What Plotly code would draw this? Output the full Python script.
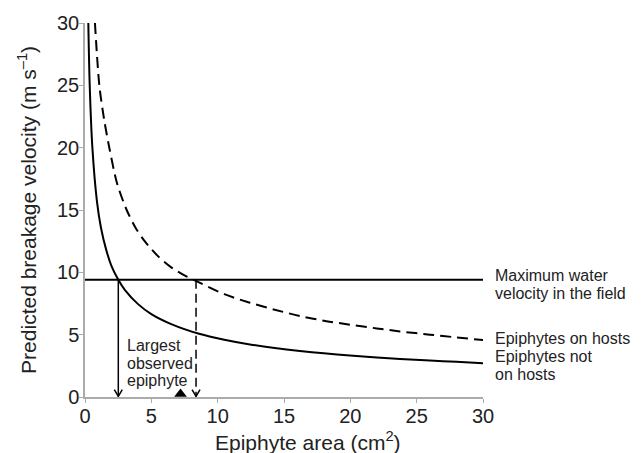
import plotly.graph_objects as go

# Predicted breakage velocity curves (epiphyte area in cm^2, velocity in m/s)
area_not_on_hosts = [0.25, 0.35, 0.55, 0.9, 1.2, 1.6, 2.0, 2.51, 3.0, 4.0, 5.0, 6.5,
                     8.67, 10.5, 12.43, 14.3, 16.2, 18.0, 19.97, 22.0, 23.74, 26.0, 28.0, 30.0]
velocity_not_on_hosts = [30.0, 25.2, 20.1, 15.7, 13.6, 11.8, 10.5, 9.4, 8.6, 7.45, 6.65, 5.85,
                         5.05, 4.6, 4.22, 3.93, 3.69, 3.5, 3.33, 3.17, 3.05, 2.92, 2.82, 2.71]

area_on_hosts = [0.75, 1.08, 1.45, 1.85, 2.4, 3.1, 3.8, 4.5, 5.5, 6.5, 7.5, 8.2,
                 8.67, 10.5, 12.43, 14.3, 16.2, 18.0, 19.97, 22.0, 23.74, 26.0, 28.0, 30.0]
velocity_on_hosts = [30.0, 25.0, 22.2, 19.9, 17.2, 15.1, 13.6, 12.5, 11.3, 10.4, 9.75, 9.4,
                     9.16, 8.25, 7.56, 7.0, 6.5, 6.12, 5.8, 5.5, 5.26, 5.0, 4.78, 4.57]

max_water_velocity = 9.4          # maximum water velocity measured in the field
limit_not_on_hosts = 2.51         # area at which breakage velocity equals max velocity
limit_on_hosts = 8.37
largest_observed_area = 7.2       # largest epiphyte observed

x_range = [0, 30]
y_range = [0, 30]
tick_vals = [0, 5, 10, 15, 20, 25, 30]

# Right-hand curve labels: one entry per text line, with the velocity it sits at
side_label_lines = ["Maximum water", "velocity in the field",
                    "Epiphytes on hosts",
                    "Epiphytes not", "on hosts"]
side_label_levels = [9.73, 8.30, 4.69, 3.23, 1.77]

# Label next to the drop arrows
arrow_label_lines = ["Largest", "observed", "epiphyte"]
arrow_label_levels = [4.16, 2.72, 1.29]
arrow_label_area = 3.05

INK = "#222222"
AXIS_GREY = "#ababab"
FONT = "Liberation Sans, Arial, sans-serif"

fig = go.Figure()

# Breakage velocity curves
fig.add_trace(go.Scatter(
    x=area_not_on_hosts, y=velocity_not_on_hosts, mode="lines",
    line=dict(color="black", width=2, shape="spline", smoothing=0.8),
    showlegend=False, hoverinfo="skip"))
fig.add_trace(go.Scatter(
    x=area_on_hosts, y=velocity_on_hosts, mode="lines",
    line=dict(color="black", width=2, dash="11px,6px", shape="spline", smoothing=0.8),
    showlegend=False, hoverinfo="skip"))

# Maximum water velocity line
fig.add_trace(go.Scatter(
    x=x_range, y=[max_water_velocity, max_water_velocity], mode="lines",
    line=dict(color="black", width=2), showlegend=False, hoverinfo="skip"))

# Drop lines from the intersections down to the area axis
for x_lim, dash in [(limit_not_on_hosts, "solid"), (limit_on_hosts, "9px,5px")]:
    fig.add_trace(go.Scatter(
        x=[x_lim, x_lim], y=[max_water_velocity, 0.05], mode="lines",
        line=dict(color="black", width=1.5, dash=dash),
        showlegend=False, hoverinfo="skip"))
    # open arrowhead
    fig.add_trace(go.Scatter(
        x=[x_lim - 0.3, x_lim, x_lim + 0.3], y=[0.6, 0.05, 0.6], mode="lines",
        line=dict(color="black", width=1.5), cliponaxis=False,
        showlegend=False, hoverinfo="skip"))

# Largest observed epiphyte marker
fig.add_trace(go.Scatter(
    x=[largest_observed_area], y=[0.25], mode="markers",
    marker=dict(symbol="triangle-up", size=11, color="black"),
    cliponaxis=False, showlegend=False, hoverinfo="skip"))


def y_paper(v):
    return (v - y_range[0]) / (y_range[1] - y_range[0])


label_x = 1.025  # just right of the plotting area
text_font = dict(family=FONT, size=16, color=INK)
annotations = []
for line, level in zip(side_label_lines, side_label_levels):
    annotations.append(dict(
        x=label_x, y=y_paper(level), xref="paper", yref="paper", xanchor="left",
        yanchor="middle", text=line, showarrow=False, font=text_font))
for line, level in zip(arrow_label_lines, arrow_label_levels):
    annotations.append(dict(
        x=arrow_label_area, y=level, xref="x", yref="y", xanchor="left",
        yanchor="middle", text=line, showarrow=False, font=text_font))

annotations += [
    dict(x=-0.146, y=0.5, xref="paper", yref="paper", xanchor="center", yanchor="middle",
         textangle=-90, text="Predicted breakage velocity (m s<sup>–1</sup>)", showarrow=False,
         font=dict(family=FONT, size=21, color=INK)),
    dict(x=0.56, y=-0.118, xref="paper", yref="paper", xanchor="center", yanchor="middle",
         text="Epiphyte area (cm<sup>2</sup>)", showarrow=False,
         font=dict(family=FONT, size=21, color=INK)),
]

axis_common = dict(
    tickvals=tick_vals, ticks="outside", ticklen=4, tickwidth=1.2, tickcolor=AXIS_GREY,
    showline=True, linecolor=AXIS_GREY, linewidth=1.5, showgrid=False, zeroline=False,
    tickfont=dict(family=FONT, size=20, color=INK), ticklabelstandoff=-4,
)

fig.update_layout(
    width=641, height=453,
    margin=dict(l=85, r=158, t=20, b=56),
    paper_bgcolor="white", plot_bgcolor="white",
    xaxis=dict(range=x_range, **axis_common),
    yaxis=dict(range=y_range, **axis_common),
    annotations=annotations,
)

fig.write_html("out.html")
